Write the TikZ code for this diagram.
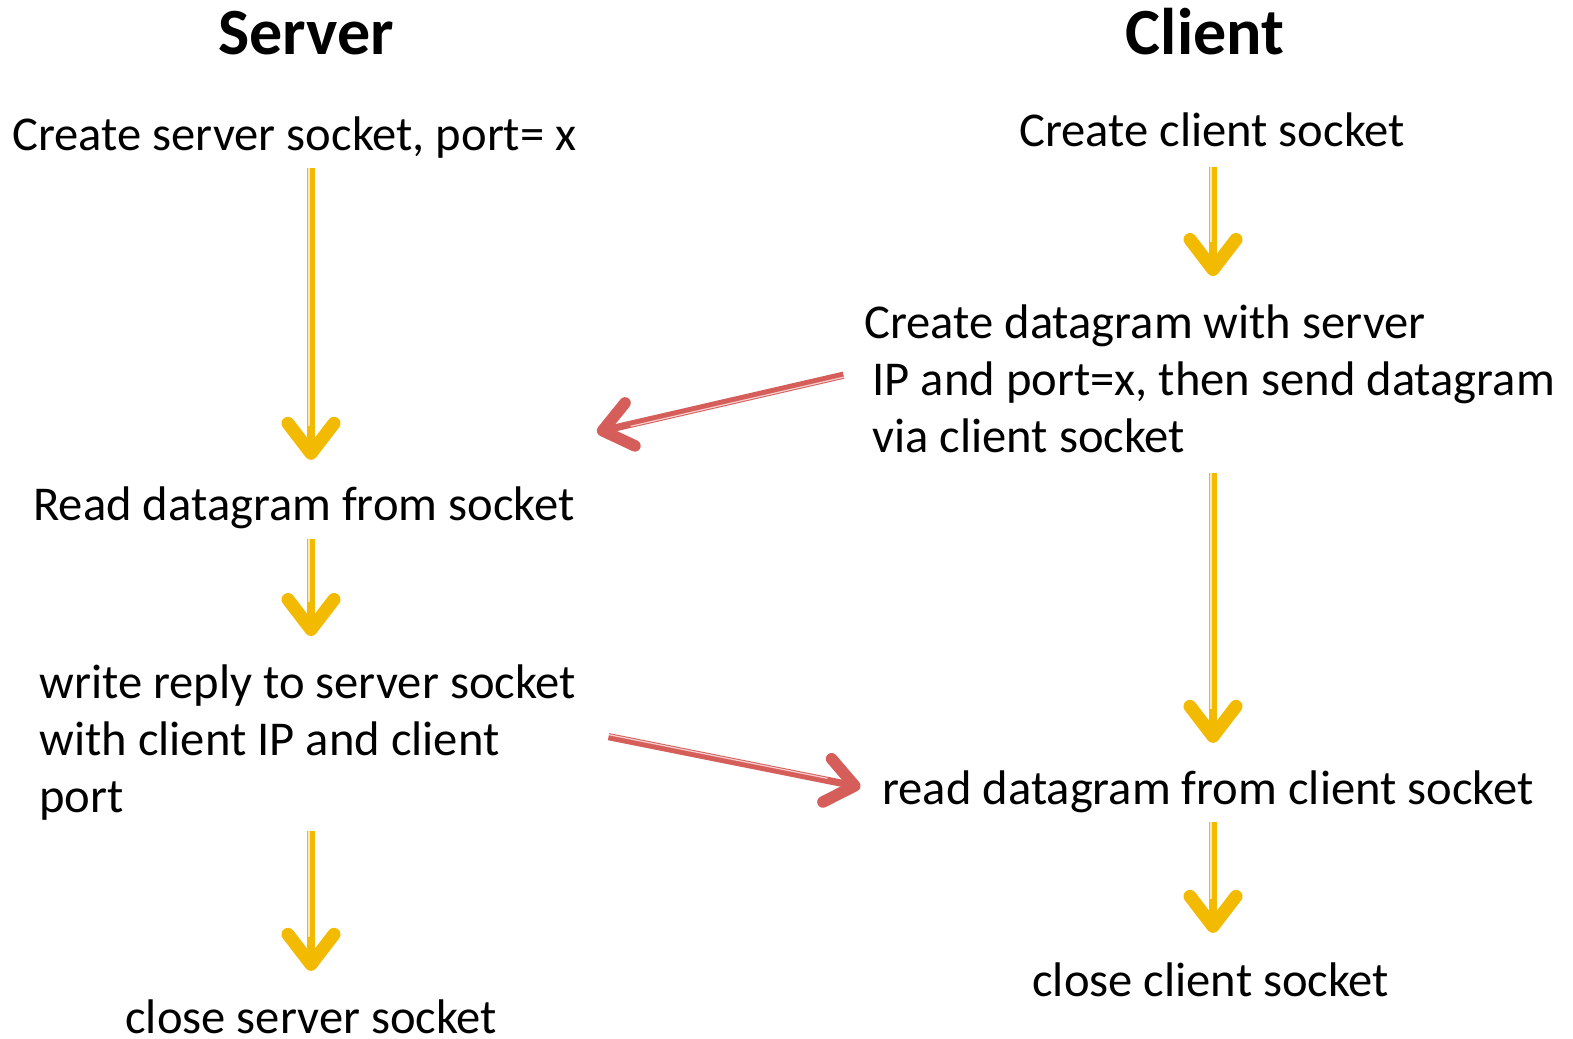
\documentclass[tikz,border=0pt]{standalone}
\usepackage{fontspec}
\setmainfont{Carlito}
\usetikzlibrary{arrows.meta,calc,positioning}
\definecolor{flowyellow}{RGB}{242,186,0}
\definecolor{msgred}{RGB}{214,94,90}

\begin{document}
\begin{tikzpicture}[x=0.5pt,y=-0.5pt,
	every node/.style={inner sep=0pt,font=\fontsize{24.3}{28.5}\selectfont},
	title/.style={font=\fontsize{33}{36}\selectfont\bfseries},
	flow/.style={draw=flowyellow,line width=4.3pt,-{Straight Barb[round,length=15pt,width=23pt,line width=2.2pt 1]}},
	msg/.style={draw=msgred,line width=3.6pt,-{Straight Barb[round,length=14pt,width=22pt,line width=2.2pt 1]}},
	glint/.style={draw=white,line width=0.6pt,opacity=0.7}]
	\useasboundingbox (0,0) rectangle (1573,1038);

	% columns and titles
	\coordinate (scol) at (311,0);
	\coordinate (ccol) at (1213,0);
	\node[title,anchor=base] (stitle) at (306,55) {Server};
	\node[title,anchor=base] (ctitle) at (1205,55) {Client};

	% server side
	\node[anchor=base west] (ssock) at (12,150) {Create server socket, port= x};
	\node[anchor=base west] (sread) at (33,520) {Read datagram from socket};
	\node[anchor=north west,align=left] (sreply) at (39,664) {write reply to server socket\\with client IP and client\\port};
	\node[anchor=base west] (sclose) at (125,1033) {close server socket};

	% client side
	\node[anchor=base west] (csock) at (1019,147) {Create client socket};
	\node[anchor=north west,align=left] (cdgram) at (864,304) {Create datagram with server\\\hspace*{4pt}IP and port=x, then send datagram\\\hspace*{4pt}via client socket};
	\node[anchor=base west] (cread) at (882,804) {read datagram from client socket};
	\node[anchor=base west] (cclose) at (1032,996) {close client socket};
	\coordinate (reqin) at (597,432);

	% yellow flow arrows
	\foreach \from/\to/\col/\gapa/\gapb in {ssock/sread/scol/5/13, sread/sreply/scol/5/14,
		sreply/sclose/scol/5.5/14, csock/cdgram/ccol/9.5/14, cdgram/cread/ccol/10/13.5, cread/cclose/ccol/4.5/14.5}
	{
		\draw[flow,shorten <=\gapa pt,shorten >=\gapb pt] (\from.south -| \col) -- (\to.north -| \col);
		\draw[glint,shorten <=\gapa pt,shorten >=\gapb pt+17pt] ($(\from.south -| \col)+(-2,0)$) -- ($(\to.north -| \col)+(-2,0)$);
	}

	% red message arrows
	\draw[msg,shorten <=10.5pt] ([yshift=4pt]cdgram.west) -- (reqin);
	\draw[glint,shorten <=10.5pt,shorten >=17pt] ($([yshift=4pt]cdgram.west)!1pt!90:(reqin)$) -- ($(reqin)!1pt!-90:([yshift=4pt]cdgram.west)$);
	\draw[msg,shorten <=16.5pt,shorten >=11pt] ([yshift=6pt]sreply.east) -- (cread.west);
	\draw[glint,shorten <=16.5pt,shorten >=28pt] ($([yshift=6pt]sreply.east)!1pt!90:(cread.west)$) -- ($(cread.west)!1pt!-90:([yshift=6pt]sreply.east)$);
\end{tikzpicture}
\end{document}
